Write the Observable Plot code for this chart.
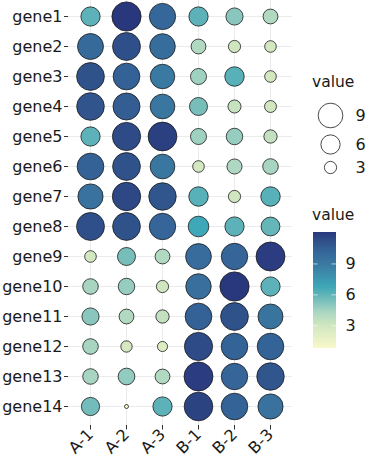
<!DOCTYPE html>
<html>
<head>
<meta charset="utf-8">
<script src="https://cdn.jsdelivr.net/npm/d3@7"></script>
<script src="https://cdn.jsdelivr.net/npm/@observablehq/plot@0.6"></script>
<style>
  html, body { margin: 0; padding: 0; background: #fff; }
  #root { position: relative; width: 370px; height: 466px; font-family: "DejaVu Sans", sans-serif; color: #1a1a1a; }
  #root > * { position: absolute; }
  .ttl { font-size: 15.5px; line-height: 18px; }
</style>
</head>
<body>
<div id="root"></div>
<script>
const genes = ["gene1","gene2","gene3","gene4","gene5","gene6","gene7","gene8","gene9","gene10","gene11","gene12","gene13","gene14"];
const samples = ["A-1","A-2","A-3","B-1","B-2","B-3"];
// one row per gene, columns follow samples
const gene1  = [6.0, 12.0, 10.0, 6.0, 5.0, 4.0];
const gene2  = [9.8, 11.1, 9.6, 4.0, 3.0, 2.8];
const gene3  = [11.0, 10.3, 8.9, 4.5, 6.1, 2.8];
const gene4  = [10.9, 10.5, 9.0, 5.4, 3.3, 2.9];
const gene5  = [6.0, 11.3, 11.7, 4.5, 4.7, 3.4];
const gene6  = [10.3, 11.0, 9.0, 2.8, 4.1, 4.3];
const gene7  = [9.3, 11.4, 10.8, 6.1, 3.0, 6.1];
const gene8  = [11.1, 11.0, 10.1, 6.7, 6.0, 5.8];
const gene9  = [2.8, 5.4, 4.0, 9.7, 10.1, 11.8];
const gene10 = [4.3, 4.7, 3.0, 9.5, 12.0, 6.0];
const gene11 = [5.0, 4.0, 3.4, 10.3, 11.0, 9.2];
const gene12 = [4.3, 2.7, 2.3, 11.3, 10.2, 10.2];
const gene13 = [4.3, 4.8, 4.0, 11.8, 10.1, 10.8];
const gene14 = [5.5, 0.8, 6.0, 11.6, 10.2, 9.3];
const rows = [gene1, gene2, gene3, gene4, gene5, gene6, gene7, gene8, gene9, gene10, gene11, gene12, gene13, gene14];
const sizeBreaks = [9, 6, 3];
const colorTicks = [3, 6, 9];

const data = [];
genes.forEach((g, i) => samples.forEach((s, j) => data.push({gene: g, sample: s, value: rows[i][j]})));

const vmin = 0.8, vmax = 12.05;
const colorScale = {
  type: "linear",
  domain: [vmin, 3, 4.3, 5.3, 6.0, 6.7, 9, 10, 11, vmax],
  range: ["#f8f8ca", "#cfe6c0", "#a8d5c2", "#7cc0bc", "#5cb2b8", "#3ea7b8", "#3a77a0", "#35679a", "#30528b", "#29377c"],
  interpolate: "rgb",
  clamp: true
};
const rScale = {type: "sqrt", domain: [vmin, 12], range: [2.0, 14.6]};
const font = {fontFamily: "DejaVu Sans, sans-serif", fontSize: "16px", color: "#1a1a1a", background: "transparent"};

const root = document.getElementById("root");

// main dot plot
const main = Plot.plot({
  width: 292, height: 466,
  marginLeft: 68, marginRight: 0, marginTop: 0, marginBottom: 41,
  style: font,
  x: {type: "point", domain: samples, padding: 0.6, label: null},
  y: {type: "point", domain: genes, range: [14.3, 407.3], padding: 0, label: null},
  r: rScale,
  color: colorScale,
  marks: [
    Plot.gridX({stroke: "#ebebeb", strokeOpacity: 1, strokeWidth: 1}),
    Plot.gridY({stroke: "#ebebeb", strokeOpacity: 1, strokeWidth: 1}),
    Plot.axisY({tickSize: 4, tickPadding: 2, stroke: "#333", label: null, fontSize: 16}),
    Plot.axisX({tickSize: 4.5, tickPadding: 2, tickRotate: -45, stroke: "#333", label: null, fontSize: 16}),
    Plot.dot(data, {x: "sample", y: "gene", r: "value", fill: "value", stroke: "#1a1a1a", strokeWidth: 0.8})
  ]
});
main.style.left = "0px"; main.style.top = "0px";
root.appendChild(main);

// size legend
const t1 = document.createElement("div");
t1.className = "ttl"; t1.textContent = "value";
t1.style.left = "312px"; t1.style.top = "73px";
root.appendChild(t1);

const sizeLeg = Plot.plot({
  width: 70, height: 90,
  marginLeft: 30, marginRight: 40, marginTop: 0, marginBottom: 0,
  style: font,
  x: {axis: null},
  y: {type: "ordinal", domain: sizeBreaks, range: [20, 49, 72], axis: null},
  r: rScale,
  marks: [
    Plot.dot(sizeBreaks, {y: d => d, r: d => d, frameAnchor: "left", fill: "white", stroke: "#1a1a1a", strokeWidth: 0.8}),
    Plot.text(sizeBreaks, {y: d => d, text: d => String(d), frameAnchor: "left", textAnchor: "start", dx: 25, fontSize: 16, fill: "#1a1a1a"})
  ]
});
sizeLeg.style.left = "300px"; sizeLeg.style.top = "95px";
root.appendChild(sizeLeg);

// colour bar legend
const t2 = document.createElement("div");
t2.className = "ttl"; t2.textContent = "value";
t2.style.left = "312px"; t2.style.top = "206px";
root.appendChild(t2);

const stops = d3.range(vmin, vmax, (vmax - vmin) / 116);
const bar = Plot.plot({
  width: 70, height: 136,
  marginLeft: 13, marginRight: 34, marginTop: 10, marginBottom: 10,
  style: font,
  x: {domain: [0, 1], axis: null},
  y: {domain: [vmin, vmax], axis: null},
  color: colorScale,
  marks: [
    Plot.rect(stops, {x1: 0, x2: 1, y1: d => d, y2: d => Math.min(vmax, d + (vmax - vmin) / 116 + 0.02), fill: d => d}),
    Plot.ruleY(colorTicks, {x1: 0, x2: 0.2, stroke: "white", strokeOpacity: 0.6}),
    Plot.ruleY(colorTicks, {x1: 0.8, x2: 1, stroke: "white", strokeOpacity: 0.6}),
    Plot.text(colorTicks, {y: d => d, x: 1, text: d => String(d), textAnchor: "start", dx: 9, fontSize: 16, fill: "#1a1a1a"})
  ]
});
bar.style.left = "300px"; bar.style.top = "222px";
root.appendChild(bar);
</script>
</body>
</html>
